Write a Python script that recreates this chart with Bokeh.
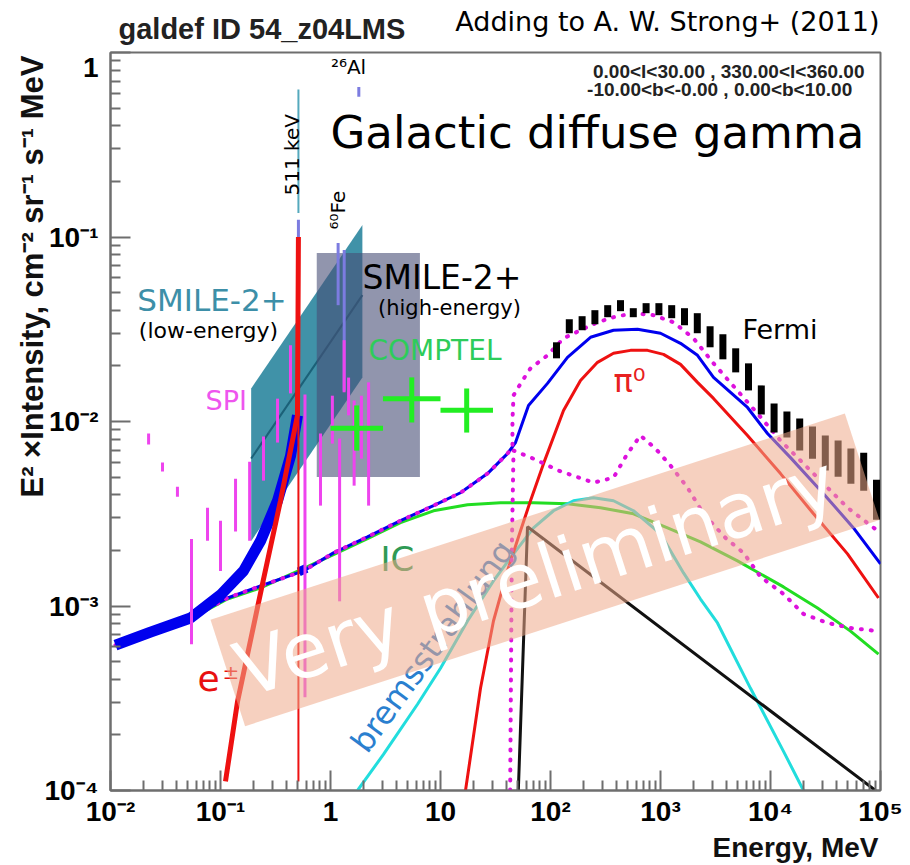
from bokeh.plotting import figure
from bokeh.layouts import column
from bokeh.models import Range1d, FixedTicker, Label, Title, CustomJSTickFormatter
from bokeh.embed import file_html
from bokeh.resources import INLINE
from bokeh.core.properties import value

# ---------------- model components (E in MeV, E^2 x intensity) ----------------
total_e = [0.0111, 0.0231, 0.0534, 0.1158, 0.231, 0.568, 1.065, 2.169, 4.329, 8.638,
           15.2, 26.75, 40.6, 48.07, 63.1, 93.9, 142.7, 231, 373.9, 618, 1000, 1520,
           2169, 3033, 6180, 9391, 15200, 30330, 56830, 100000]
total_i = [6.14e-4, 7.22e-4, 8.61e-4, 1.105e-3, 1.284e-3, 1.55e-3, 1.94e-3, 2.37e-3,
           2.90e-3, 3.50e-3, 4.11e-3, 5.22e-3, 6.70e-3, 7.69e-3, 0.01222, 0.01609,
           0.02228, 0.02861, 0.03124, 0.03162, 0.03009, 0.02654, 0.02284, 0.01734,
           0.01191, 0.00861, 0.00637, 0.00406, 0.00265, 0.00169]

# total including the positronium continuum (low-energy part)
total_ps_e = [0.0111, 0.0231, 0.0534, 0.100, 0.162, 0.231, 0.330, 0.433, 0.501]
total_ps_i = [6.14e-4, 7.22e-4, 8.61e-4, 1.148e-3, 1.55e-3, 2.25e-3, 3.72e-3, 6.5e-3, 1.08e-2]
total_ps_tail_e = [0.515, 0.605]
total_ps_tail_i = [1.53e-3, 1.60e-3]

total_alt_e = [0.0111, 0.0231, 0.0534, 0.1158, 0.231, 0.568, 1.065, 2.169, 4.329, 8.638,
               15.2, 26.75, 40.6, 45.1, 45.1, 46.1, 55.7, 65.8, 93.9, 131.3, 187.4,
               267.5, 373.9, 568, 864, 1313, 1995, 3033, 7616, 12330, 24600, 50120, 93910]
total_alt_i = [6.14e-4, 7.22e-4, 8.61e-4, 1.105e-3, 1.284e-3, 1.55e-3, 1.94e-3, 2.37e-3,
               2.90e-3, 3.50e-3, 4.11e-3, 5.22e-3, 6.70e-3, 7.22e-3, 0.01013, 0.01384,
               0.0167, 0.01941, 0.02284, 0.02826, 0.03124, 0.03451, 0.03675, 0.03864,
               0.03769, 0.03451, 0.02826, 0.02066, 0.01105, 0.00788, 0.00522, 0.00341, 0.00256]

extra_e = [43.0, 44.5, 46.1, 73.1, 118.2, 246, 373.9, 501, 658, 900.6, 1233, 1760, 2460,
           3899, 5683, 8111, 13130, 19950, 32980, 53370, 93910]
extra_i = [1.0e-4, 2.0e-3, 6.96e-3, 6.22e-3, 5.42e-3, 4.66e-3, 4.96e-3, 6.70e-3, 8.39e-3,
           7.13e-3, 5.77e-3, 4.38e-3, 3.16e-3, 2.34e-3, 1.94e-3, 1.44e-3, 1.162e-3,
           9.05e-4, 8.09e-4, 7.60e-4, 7.31e-4]

pi0_e = [16.88, 23.1, 30.3, 40.6, 53.4, 65.8, 86.4, 131.3, 187.4, 267.5, 373.9, 533.8,
         761.9, 1065, 1520, 2169, 3033, 6180, 12330, 24600, 50120, 95900]
pi0_i = [1.0e-4, 3.58e-4, 8.29e-4, 1.55e-3, 2.56e-3, 3.72e-3, 5.91e-3, 0.01148, 0.0167,
         0.02093, 0.02342, 0.0243, 0.0243, 0.02312, 0.0204, 0.01629, 0.01334, 0.00839,
         0.00522, 0.00316, 0.001917, 0.001105]

ic_e = [0.0111, 0.0231, 0.0534, 0.1158, 0.231, 0.534, 1.065, 2.169, 4.329, 8.638, 17.6,
        35.13, 70.07, 142.7, 284.8, 568.2, 1158, 2310, 5012, 13130, 26750, 53370, 95900]
ic_i = [6.06e-4, 7.13e-4, 8.50e-4, 1.091e-3, 1.253e-3, 1.57e-3, 1.90e-3, 2.32e-3, 2.83e-3,
        3.28e-3, 3.54e-3, 3.63e-3, 3.63e-3, 3.583e-3, 3.41e-3, 3.16e-3, 2.65e-3,
        2.228e-3, 1.756e-3, 1.269e-3, 9.75e-4, 7.31e-4, 5.48e-4]

brems_e = [1.76, 3.03, 6.18, 10.0, 17.6, 30.3, 46.1, 70.1, 106.5, 161.9, 246, 373.9,
           568.2, 1000, 1619, 2310, 3297, 6579, 13130, 19950]
brems_i = [1.0e-4, 1.569e-4, 2.934e-4, 4.60e-4, 8.29e-4, 1.367e-3, 1.917e-3, 2.65e-3,
           3.283e-3, 3.72e-3, 3.86e-3, 3.72e-3, 3.283e-3, 2.46e-3, 1.511e-3, 1.091e-3,
           8.09e-4, 3.58e-4, 1.63e-4, 1.0e-4]

sources_e = [51.0, 61.8, 90050]
sources_i = [1.0e-4, 2.687e-3, 1.0e-4]

epm_e = [0.111, 0.143, 0.241, 0.351, 0.501, 0.511]
epm_i = [1.12e-4, 3.05e-4, 1.32e-3, 3.72e-3, 1.08e-2, 0.1]
line511_e = [0.511]
line511_lo = [1.12e-4]
line511_hi = [1.08e-2]

# gamma-ray line markers: 511 keV, 60Fe (1.173, 1.332), 26Al (1.809)
gline_e = [0.511, 1.173, 1.332, 1.809]
gline_lo = [0.1, 0.0427, 0.0147, 0.576]
gline_hi = [0.124, 0.0927, 0.085, 0.65]
mark511_e = [0.511]
mark511_lo = [0.135]
mark511_hi = [0.63]

# ---------------- measurements ----------------
spi_e = [0.0222, 0.0297, 0.0406, 0.0545, 0.0762, 0.100, 0.137, 0.184, 0.246, 0.330,
         0.433, 0.586, 0.811, 1.04, 1.21, 1.33, 1.46, 1.64, 1.91, 2.22]
spi_hi = [8.6e-3, 6.0e-3, 4.43e-3, 2.31e-3, 3.41e-3, 2.90e-3, 4.90e-3, 6.06e-3, 8.29e-3,
          1.33e-2, 2.59e-2, 1.40e-2, 8.61e-3, 1.38e-2, 8.08e-3, 2.76e-2, 1.73e-2,
          1.30e-2, 1.38e-2, 1.63e-2]
spi_lo = [7.5e-3, 5.35e-3, 3.91e-3, 6.2e-4, 2.26e-3, 1.55e-3, 2.53e-3, 2.26e-3, 4.78e-3,
          7.69e-3, 1.42e-2, 3.2e-4, 3.50e-3, 7.59e-3, 1.06e-3, 1.44e-2, 1.08e-2,
          4.49e-3, 6.29e-3, 3.5e-3]

comptel_elo = [1.0, 3.0, 10.0]
comptel_ehi = [3.0, 10.0, 30.0]
comptel_e = [1.73, 5.48, 17.3]
comptel_i = [0.0092, 0.0133, 0.0115]
comptel_ilo = [0.00695, 0.00988, 0.00871]
comptel_ihi = [0.01222, 0.01734, 0.0151]

fermi_e = [113.4, 148.2, 193.8, 253.3, 331.1, 432.9, 565.8, 739.8, 967.1, 1264, 1652,
           2160, 2824, 3692, 4826, 6310, 8249, 10780, 14100, 18430, 24090, 31490,
           41170, 53820, 70360, 91970]
fermi_hi = [0.02687, 0.03583, 0.03722, 0.04012, 0.04271, 0.04546, 0.04113, 0.04379,
            0.04379, 0.04271, 0.04113, 0.03864, 0.03283, 0.02971, 0.02493, 0.02066,
            0.01569, 0.01253, 0.01133, 0.01038, 0.00939, 0.00839, 0.00788, 0.00713,
            0.00678, 0.00484]
fermi_lo = [0.02200, 0.03009, 0.03124, 0.03366, 0.03675, 0.03962, 0.03675, 0.03864,
            0.03769, 0.03630, 0.03324, 0.03009, 0.02525, 0.02173, 0.01846, 0.01474,
            0.01092, 0.00871, 0.00818, 0.00696, 0.00629, 0.00542, 0.00502, 0.00460,
            0.00422, 0.00293]

# SMILE-2+ expected sensitivity regions
smile_low_e = [0.19, 1.95]
smile_low_min = [0.00225, 0.0173]
smile_low_max = [0.0151, 0.116]
smile_low_mid = [0.0063, 0.0484]
smile_high_e = [0.75, 6.5]
smile_high_i = [0.005, 0.082]

x_major = [1e-2, 1e-1, 1, 10, 100, 1e3, 1e4, 1e5]
y_major = [1e-4, 1e-3, 1e-2, 1e-1, 1]

# ---------------- header strip (frame shares the main plot's horizontal extent) ----------------
head = figure(width=910, height=51, x_range=Range1d(110, 880), y_range=Range1d(51, 0),
              output_backend="svg", toolbar_location=None, min_border=0,
              x_axis_location=None, y_axis_location=None)
head.grid.visible = False
head.outline_line_color = None
head.background_fill_color = "white"
head.border_fill_color = "white"
head.text(x=[118], y=[28], text=["galdef ID 54_z04LMS"], text_font=value("Liberation Sans"),
          text_font_style="bold", text_font_size="29px", text_color="#222222",
          text_align="left", text_baseline="middle")
head.text(x=[879], y=[21], text=["Adding to A. W. Strong+ (2011)"],
          text_font=value("DejaVu Sans"), text_font_size="27px", text_color="black",
          text_align="right", text_baseline="middle")

# ---------------- main figure ----------------
p = figure(width=910, height=814, x_axis_type="log", y_axis_type="log",
           x_range=Range1d(1e-2, 1e5), y_range=Range1d(1e-4, 1),
           output_backend="svg", toolbar_location=None,
           min_border_left=110, min_border_right=30, min_border_top=1,
           min_border_bottom=75)
p.grid.visible = False
p.background_fill_color = "white"
p.border_fill_color = "white"
p.outline_line_color = "#6e6e6e"
p.outline_line_width = 2

x_minor = [m * d for d in x_major[:-1] for m in range(2, 10)]
y_minor = [m * d for d in y_major[:-1] for m in range(2, 10)]
p.xaxis.ticker = FixedTicker(ticks=x_major, minor_ticks=x_minor)
p.yaxis.ticker = FixedTicker(ticks=y_major, minor_ticks=y_minor)

pow_fmt = CustomJSTickFormatter(code="""
const e = Math.round(Math.log10(tick));
if (e == 0) return "1";
if (e == 1) return "10";
const sup = {"-": "\u207b", "0": "\u2070", "1": "\u00b9", "2": "\u00b2", "3": "\u00b3",
             "4": "\u2074", "5": "\u2075", "6": "\u2076", "7": "\u2077", "8": "\u2078", "9": "\u2079"};
return "10" + String(e).split("").map(c => sup[c]).join("");
""")
for ax in (p.xaxis[0], p.yaxis[0]):
    ax.formatter = pow_fmt
    ax.axis_line_color = "#6e6e6e"
    ax.axis_line_width = 2
    ax.major_tick_line_color = "#6e6e6e"
    ax.minor_tick_line_color = "#6e6e6e"
    ax.major_tick_line_width = 2
    ax.minor_tick_line_width = 2
    ax.major_tick_in = 20
    ax.major_tick_out = 0
    ax.minor_tick_in = 10
    ax.minor_tick_out = 0
    ax.major_label_text_font = "Liberation Sans"
    ax.major_label_text_font_style = "bold"
    ax.major_label_text_font_size = "28px"
    ax.major_label_text_color = "black"
p.xaxis.major_label_standoff = 5
p.yaxis.major_label_standoff = 12

p.add_layout(Title(text="E\u00b2 \u00d7Intensity, cm\u207b\u00b2 sr\u207b\u00b9 s\u207b\u00b9 MeV",
                   align="right", text_font="Liberation Sans", text_font_style="bold",
                   text_font_size="31px", text_color="#111111", standoff=-16, offset=3), "left")
p.add_layout(Title(text="Energy, MeV", align="right", text_font="Liberation Sans",
                   text_font_style="bold", text_font_size="28px", text_color="#111111",
                   standoff=0, offset=2), "below")

# SMILE-2+ regions
p.varea(x=smile_low_e, y1=smile_low_min, y2=smile_low_max, fill_color="#1f7f99", fill_alpha=0.85)
p.line(smile_low_e, smile_low_mid, line_color="#1b6178", line_width=2)
p.quad(left=smile_high_e[0], right=smile_high_e[1], bottom=smile_high_i[0], top=smile_high_i[1],
       fill_color="#484e76", fill_alpha=0.6, line_color=None)

# line markers
p.segment(x0=mark511_e, y0=mark511_lo, x1=mark511_e, y1=mark511_hi, line_color="#55a9bd", line_width=2)
p.segment(x0=gline_e, y0=gline_lo, x1=gline_e, y1=gline_hi, line_color="#7c7ce0", line_width=3)

# model curves
p.line(ic_e, ic_i, line_color="#22dd22", line_width=3)
p.line(brems_e, brems_i, line_color="#22dddd", line_width=3)
p.line(sources_e, sources_i, line_color="#111111", line_width=3)
p.line(pi0_e, pi0_i, line_color="#ee1111", line_width=3)
p.line(extra_e, extra_i, line_color="#dd11dd", line_width=4, line_dash="1 9", line_cap="round")
p.line(total_e, total_i, line_color="#0000ee", line_width=3)
p.line(total_alt_e, total_alt_i, line_color="#dd11dd", line_width=4, line_dash="1 9", line_cap="round")
p.line(total_ps_e, total_ps_i, line_color="#0000ee", line_width=11)
p.line(total_ps_tail_e, total_ps_tail_i, line_color="#0000ee", line_width=9)
p.segment(x0=line511_e, y0=line511_lo, x1=line511_e, y1=line511_hi, line_color="#ee1111", line_width=2)
p.line(epm_e, epm_i, line_color="#ee1111", line_width=5)

# data
p.segment(x0=spi_e, y0=spi_lo, x1=spi_e, y1=spi_hi, line_color="#ee44ee", line_width=3)
p.segment(x0=comptel_elo, y0=comptel_i, x1=comptel_ehi, y1=comptel_i, line_color="#22ee22", line_width=5)
p.segment(x0=comptel_e, y0=comptel_ilo, x1=comptel_e, y1=comptel_ihi, line_color="#22ee22", line_width=5)
p.segment(x0=fermi_e, y0=fermi_lo, x1=fermi_e, y1=fermi_hi, line_color="black", line_width=7)


def note(x, y, text, size, color="black", font="DejaVu Sans", align="left",
         baseline="middle", angle=0, style="normal"):
    p.text(x=[x], y=[y], text=[text], text_font=value(font), text_font_size=f"{size}px",
           text_color=color, text_align=align, text_baseline=baseline,
           angle=angle, angle_units="deg", text_font_style=style)


note(1.0, 0.370, "Galactic diffuse gamma", 45)
note(71540, 0.788, "0.00<l<30.00 , 330.00<l<360.00", 19, font="Liberation Sans",
     align="right", style="bold", color="#222222")
note(61790, 0.6293, "-10.00<b<-0.00 ,  0.00<b<10.00", 19, font="Liberation Sans",
     align="right", style="bold", color="#222222")
note(1.458, 0.839, "\u00b2\u2076Al", 20, align="center")
note(0.4513, 0.279, "511 keV", 20, align="center", angle=90)
note(1.158, 0.140, "\u2076\u2070Fe", 20, align="center", angle=90)
note(1.954, 0.0606, "SMILE-2+", 33)
note(12.07, 0.0411, "(high-energy)", 21, align="center")
note(0.0837, 0.0455, "SMILE-2+", 31, color="#3d8fa8", align="center")
note(0.0778, 0.03124, "(low-energy)", 22, align="center")
note(2.215, 0.02416, "COMPTEL", 28, color="#2ecc5a")
note(0.0731, 0.0130, "SPI", 27, color="#ee55ee")
note(5559, 0.0316, "Fermi", 27)
note(373.9, 0.0165, "\u03c0\u2070", 32, color="#e82020")
note(2.848, 1.79e-3, "IC", 34, color="#2f9a55")
note(0.0618, 4.06e-4, "e", 36, color="#e81010")
note(0.1043, 4.38e-4, "\u00b1", 20, color="#e81010")
note(8.46, 6.06e-4, "bremsstrahlung", 32, color="#2a7fcf", align="center", angle=54)

# "Very preliminary" band
p.rect(x=[89.1], y=[1.569e-3], width=667, height=112, width_units="screen",
       height_units="screen", angle=18, angle_units="deg", fill_color="#eea98a",
       fill_alpha=0.55, line_color=None, level="annotation")
p.add_layout(Label(x=73.07, y=1.456e-3, text="Very preliminary", angle=18, angle_units="deg",
                   text_align="center", text_baseline="middle", text_color="white",
                   text_font="DejaVu Sans", text_font_size="76px", level="overlay"))

open("out.html", "w").write(file_html(column(head, p, spacing=0), INLINE))
